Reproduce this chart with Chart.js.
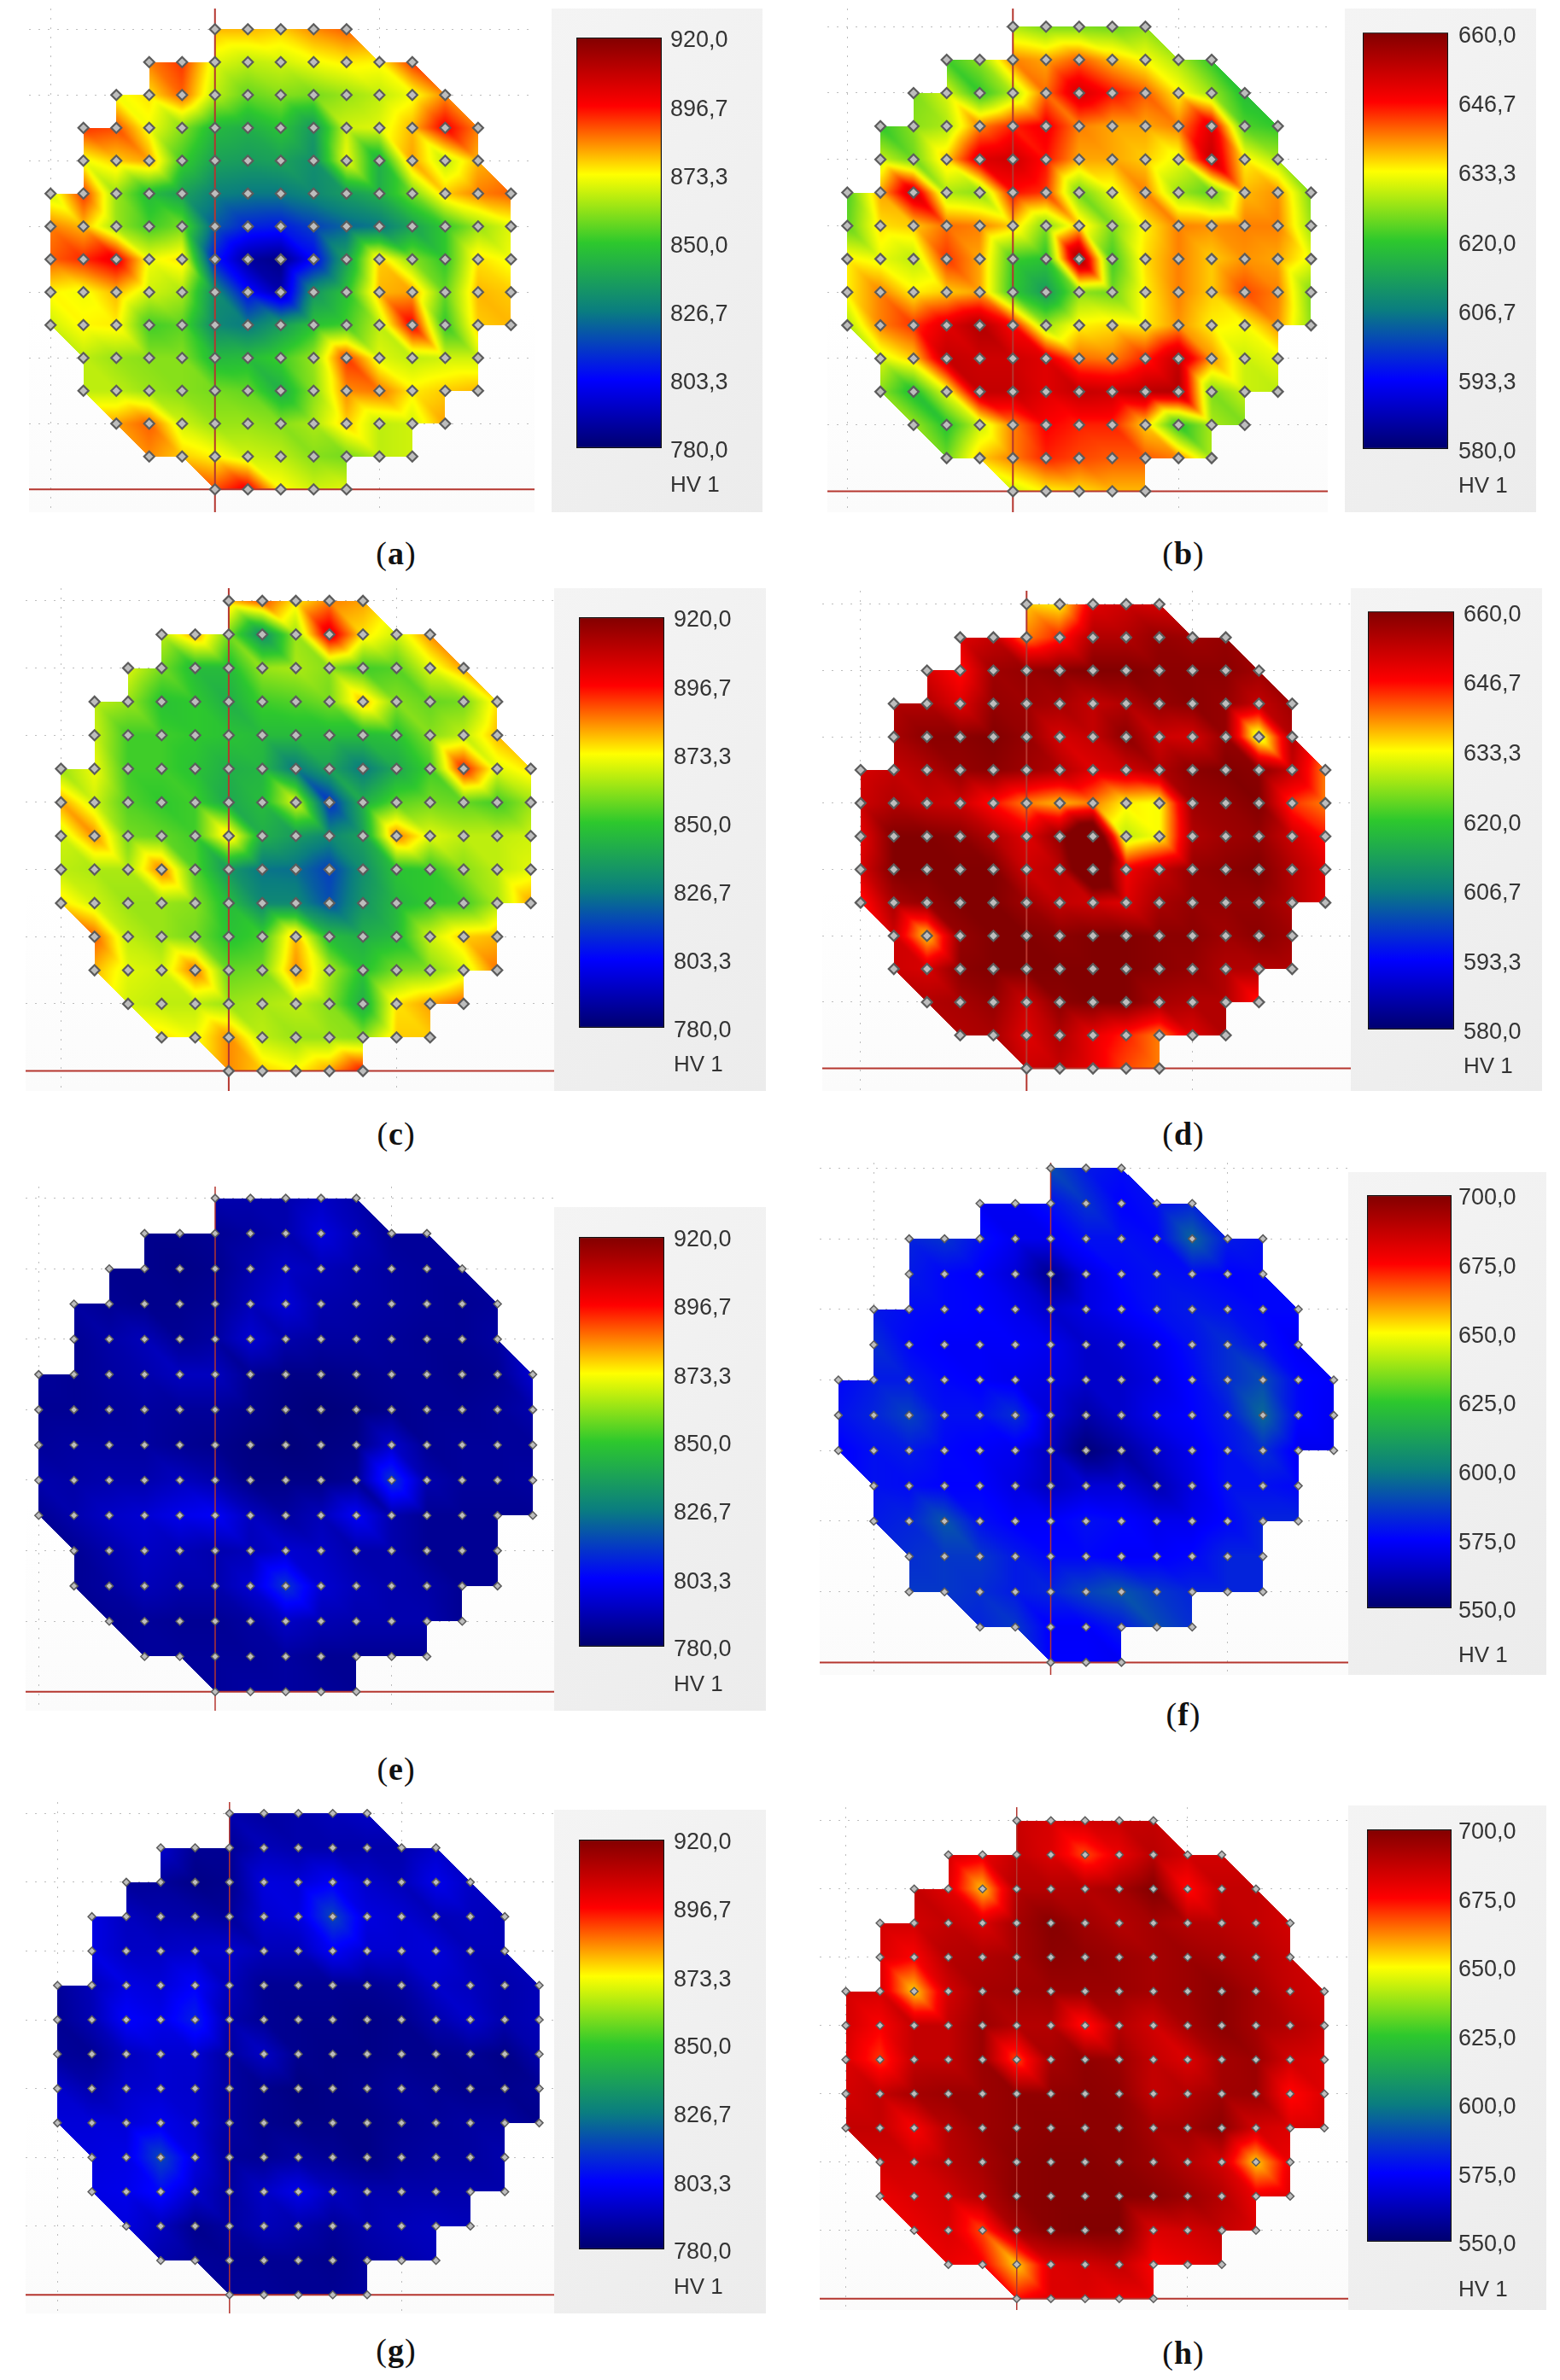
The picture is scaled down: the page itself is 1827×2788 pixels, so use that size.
<!DOCTYPE html>
<html><head><meta charset="utf-8">
<script src="https://cdn.jsdelivr.net/npm/chart.js@4"></script>
<style>
html,body{margin:0;padding:0;background:#fff;}
#page{position:relative;width:1827px;height:2788px;overflow:hidden;}
.plot,.legend{position:absolute;}
.plot{background:linear-gradient(180deg,#ffffff 60%,#fbfbfb 100%);}
.legend{background:linear-gradient(135deg,#f4f4f4,#ececec);}
canvas{display:block;}
.t{position:absolute;white-space:nowrap;transform:translateY(-50%);}
.hv{font:26px "Liberation Sans",sans-serif;color:#333;}
.cap{font:38px "Liberation Serif",serif;color:#111;transform:translate(-50%,-50%);letter-spacing:1px;}
.cap b{font-weight:700;}
</style></head><body><div id="page"></div>
<script>
const rowStartsStd = [5,3,2,1,1,0,0,0,0,0,1,1,2,3,5];
const rowStartsF   = [6,4,2,2,1,1,0,0,0,1,1,2,2,4,6];
const ticksSteel = [920,896.7,873.3,850,826.7,803.3,780];
const ticksB = [660,646.7,633.3,620,606.7,593.3,580];
const ticksF = [700,675,650,625,600,575,550];
const rampColors = [[0,0,110],[0,0,255],[10,125,128],[45,200,45],[255,255,0],[255,0,0],[130,0,0]];

const valuesA = [
[880,880,878,884,888],
[885,892,870,866,868,872,875,874,892],
[872,876,888,866,856,860,858,862,866,872,884],
[892,890,872,860,845,842,848,835,868,870,880,898,885],
[872,878,882,852,838,836,838,832,872,842,882,866,880],
[868,892,862,846,838,828,826,826,830,836,842,858,878,885,888],
[885,880,862,852,858,820,810,808,815,822,826,838,850,862,870],
[888,893,900,872,876,808,788,784,804,838,878,860,850,876,872],
[874,872,880,868,864,832,805,790,834,848,880,882,856,880,878],
[868,874,875,852,855,830,826,836,848,852,866,898,850,878,880],
[866,862,860,860,845,846,852,862,892,870,866,868,868],
[866,866,862,860,858,856,842,860,884,886,875,878,880],
[882,888,868,862,862,860,864,878,866,868,882],
[884,878,874,868,866,860,858,866,868],
[890,899,874,868,870]];
const valuesB = [
[628,625,625,624,626],
[621,626,640,638,642,637,633,628,620],
[625,631,620,628,641,651,646,642,634,627,618],
[620,626,628,640,645,648,640,638,638,640,650,622,620],
[630,624,636,650,652,646,638,638,636,632,653,634,628],
[622,638,652,628,626,646,644,624,632,640,627,623,637,639,625],
[623,635,636,641,640,636,625,636,625,634,640,639,640,640,627],
[634,632,629,644,638,621,619,658,621,635,640,636,639,638,632],
[634,640,634,636,638,620,612,626,624,634,640,636,643,640,625],
[628,640,644,650,655,647,627,634,635,634,639,634,633,639,626],
[631,636,653,652,652,650,641,640,645,653,639,630,632],
[626,618,632,653,653,650,653,652,654,655,625,630,629],
[627,619,630,640,647,645,645,636,619,628,625],
[624,636,640,645,643,642,642,640,628],
[630,634,635,637,637]];
const valuesC = [
[880,890,875,885,882],
[866,882,858,832,862,902,876,868,884],
[870,858,846,846,862,864,860,852,854,870,882],
[866,862,848,850,842,852,854,858,880,860,856,858,876],
[868,852,852,850,848,846,846,846,846,848,860,866,880],
[862,872,852,852,848,842,844,826,838,826,840,852,895,870,876],
[882,868,854,850,852,840,846,870,812,842,855,858,856,852,862],
[868,884,858,856,852,878,842,836,830,838,886,870,866,866,868],
[866,864,864,886,854,835,825,824,815,832,848,850,860,866,870],
[876,868,862,862,860,846,830,830,818,834,845,850,852,864,882],
[888,866,862,858,848,852,880,846,842,846,868,878,880],
[880,870,868,886,856,858,884,864,848,858,860,868,886],
[868,866,866,862,864,866,860,842,876,882,888],
[876,872,884,866,862,862,860,878,878],
[884,878,874,882,896]];
const valuesD = [
[636,634,650,652,651],
[650,653,640,645,655,655,658,657,658],
[651,646,657,658,659,660,660,659,659,659,657],
[655,655,650,658,657,656,653,655,658,659,658,653,657],
[656,659,659,660,658,651,653,659,652,651,658,630,655],
[651,653,655,658,659,657,655,650,652,655,659,660,659,653,640],
[652,655,653,652,646,640,637,640,634,633,657,658,660,644,640],
[649,660,660,659,655,650,658,674,629,633,655,657,658,652,646],
[651,660,660,660,660,652,654,670,648,653,658,659,660,655,650],
[645,656,658,660,660,657,653,652,650,656,658,658,658,655,650],
[652,636,658,660,660,659,660,660,659,659,657,659,657],
[652,651,659,660,660,660,660,660,659,658,655,655,655],
[655,656,658,652,659,660,660,656,655,655,645],
[655,656,650,655,649,645,640,650,655],
[652,653,649,643,640]];
const valuesE = [
[790,790,790,794,790],
[785,785,786,788,790,798,792,787,787],
[785,785,784,785,790,794,792,790,788,787,787],
[788,786,785,785,786,792,797,790,789,788,787,786,787],
[786,789,792,786,788,796,790,788,788,787,786,786,788],
[787,786,788,790,793,793,786,784,784,785,786,786,785,786,796],
[786,786,787,788,787,787,785,783,782,783,785,786,786,787,790],
[787,788,788,788,786,785,783,782,783,784,795,786,787,787,787],
[790,789,790,790,793,790,784,784,784,786,813,790,787,787,788],
[786,790,794,796,800,802,793,788,792,802,790,786,786,786,786],
[786,790,794,792,790,792,796,794,790,790,786,786,786],
[786,788,792,790,790,796,813,796,792,790,789,786,786],
[786,787,786,786,788,794,791,790,790,790,786],
[787,787,787,787,788,786,786,786,786],
[787,788,788,787,786]];
const valuesF = [
[590,580,577],
[573,573,578,585,575,578,582],
[582,585,578,572,572,578,578,576,595,580,578],
[580,576,574,568,556,570,576,578,577,575,576],
[580,577,576,575,572,566,570,574,578,580,578,576,576],
[584,576,574,574,574,572,566,568,572,578,584,578,573],
[576,580,580,576,574,572,570,566,566,570,576,584,590,576,574],
[578,582,588,578,578,584,568,560,566,572,575,580,596,576,573],
[574,578,580,576,574,572,564,552,558,566,572,578,584,572,572],
[578,577,575,575,570,564,568,568,562,570,578,578,576],
[580,582,592,578,574,574,578,576,572,572,576,582,582],
[584,586,586,580,576,576,574,574,576,582,582],
[586,586,584,580,582,588,592,586,582,582,582],
[582,586,574,574,580,590,584],
[575,575,573]];
const valuesG = [
[790,788,790,792,794],
[795,786,786,792,790,790,790,790,795],
[787,787,784,785,798,797,802,795,792,800,794],
[799,793,790,789,787,796,798,816,798,796,792,793,792],
[799,794,794,795,795,792,792,802,796,796,797,792,792],
[787,792,799,797,803,792,786,786,786,786,788,795,793,790,792],
[786,791,803,800,809,790,786,785,785,784,785,790,795,790,792],
[787,786,793,796,796,788,794,785,784,784,785,785,786,784,790],
[795,790,795,796,795,788,785,783,784,785,787,786,785,785,786],
[797,797,797,800,796,788,785,784,784,784,786,787,788,788,785],
[798,799,816,798,787,786,788,786,784,787,788,788,790],
[799,800,805,795,788,794,800,793,790,790,790,790,790],
[798,793,785,788,792,790,787,790,792,793,792],
[790,787,786,786,786,785,788,790,792],
[787,787,786,786,788]];
const valuesH = [
[686,683,684,686,687],
[684,679,687,682,668,679,689,684,684],
[687,681,656,690,690,690,693,700,674,687,687],
[684,684,687,682,693,699,694,690,693,690,689,687,684],
[682,676,690,691,693,698,697,695,693,695,693,690,686],
[684,683,655,684,693,694,695,695,695,693,695,698,693,687,684],
[684,676,687,687,695,690,690,672,690,684,693,698,693,690,686],
[682,670,687,687,695,668,693,697,695,687,682,693,695,684,682],
[684,687,693,695,695,697,697,698,697,687,690,694,695,674,682],
[687,687,676,690,695,697,698,698,698,693,694,698,684,682,684],
[684,684,689,693,698,699,699,698,695,690,684,655,679],
[679,682,684,690,698,699,699,699,698,695,690,679,682],
[679,682,668,693,699,700,700,682,684,687,682],
[679,676,655,682,684,687,676,679,682],
[674,682,682,679,679]];

// Layout table: page pixels of each panel.
const panels = [
 {id:'a',vals:valuesA,starts:rowStartsStd,red:5,ticks:ticksSteel,plot:[34,10,626,600],c0:59.2,c14:598.4,r0:34.3,r14:573.3,leg:[646,10,893,600],bar:[675,44,775,525],lab:785,hv:567,cap:[464,648]},
 {id:'b',vals:valuesB,starts:rowStartsStd,red:5,ticks:ticksB,plot:[969,10,1555,600],c0:992.3,c14:1535.4,r0:31.2,r14:575.5,leg:[1575,10,1799,600],bar:[1596,34,1696,526],lab:1708,hv:568,cap:[1386,648]},
 {id:'c',vals:valuesC,starts:rowStartsStd,red:5,ticks:ticksSteel,plot:[30,689,649,1278],c0:71.4,c14:621.6,r0:703.9,r14:1254.6,leg:[649,689,897,1278],bar:[678,723,778,1204],lab:789,hv:1246,cap:[464,1328]},
 {id:'d',vals:valuesD,starts:rowStartsStd,red:5,ticks:ticksB,plot:[963,692,1582,1278],c0:1007.9,c14:1552.2,r0:707.8,r14:1251.6,leg:[1582,689,1806,1278],bar:[1602,713,1703,1206],lab:1714,hv:1248,cap:[1386,1328]},
 {id:'e',vals:valuesE,starts:rowStartsStd,red:5,ticks:ticksSteel,plot:[30,1390,649,2004],c0:45.3,c14:624,r0:1403.6,r14:1981.8,leg:[649,1414,897,2004],bar:[678,1449,778,1929],lab:789,hv:1972,cap:[464,2072]},
 {id:'f',vals:valuesF,starts:rowStartsF,red:6,ticks:ticksF,plot:[960,1362,1579,1962],c0:981.9,c14:1562,r0:1368.4,r14:1947.4,leg:[1579,1373,1811,1962],bar:[1601,1400,1700,1884],lab:1708,hv:1938,cap:[1386,2008]},
 {id:'g',vals:valuesG,starts:rowStartsStd,red:5,ticks:ticksSteel,plot:[30,2111,649,2710],c0:67.3,c14:631.5,r0:2124.3,r14:2688.3,leg:[649,2120,897,2710],bar:[678,2155,778,2635],lab:789,hv:2678,cap:[464,2753]},
 {id:'h',vals:valuesH,starts:rowStartsStd,red:5,ticks:ticksF,plot:[960,2117,1579,2706],c0:990.6,c14:1551,r0:2132.7,r14:2692.8,leg:[1579,2115,1811,2706],bar:[1601,2143,1700,2626],lab:1708,hv:2681,cap:[1386,2756]}
];

function rampAt(t){
  t=Math.max(0,Math.min(1,t))*(rampColors.length-1);
  const i=Math.min(rampColors.length-2,Math.floor(t)),f=t-i,a=rampColors[i],b=rampColors[i+1];
  return [a[0]+(b[0]-a[0])*f,a[1]+(b[1]-a[1])*f,a[2]+(b[2]-a[2])*f];
}
const page=document.getElementById('page');
function box(cls,r){
  const d=document.createElement('div');d.className=cls;
  d.style.cssText=`left:${r[0]}px;top:${r[1]}px;width:${r[2]-r[0]}px;height:${r[3]-r[1]}px`;
  const c=document.createElement('canvas');c.width=r[2]-r[0];c.height=r[3]-r[1];
  c.style.width=c.width+'px';c.style.height=c.height+'px';
  d.appendChild(c);page.appendChild(d);return c;
}
function text(cls,html,x,y){
  const d=document.createElement('div');d.className='t '+cls;d.innerHTML=html;
  d.style.left=x+'px';d.style.top=y+'px';page.appendChild(d);
}
function grid(p){
  const g=[];
  for(let r=0;r<15;r++){g.push(new Array(15).fill(null));p.vals[r].forEach((v,i)=>{g[r][p.starts[r]+i]=v;});}
  return g;
}
function heatPlugin(p,g,lo,hi){return {id:'heat',beforeDatasetsDraw(chart){
  const a=chart.chartArea,xs=chart.scales.x,ys=chart.scales.y;
  const W=Math.round(a.right-a.left),H=Math.round(a.bottom-a.top);
  const off=document.createElement('canvas');off.width=W;off.height=H;
  const oc=off.getContext('2d'),im=oc.createImageData(W,H);
  for(let py=0;py<H;py++){
    const row=14-ys.getValueForPixel(a.top+py+.5);
    for(let px=0;px<W;px++){
      const col=xs.getValueForPixel(a.left+px+.5)+p.red;
      if(col<0||col>14||row<0||row>14)continue;
      const c=Math.min(13,Math.floor(col)),r=Math.min(13,Math.floor(row)),u=col-c,v=row-r;
      const TL=g[r][c],TR=g[r][c+1],BL=g[r+1][c],BR=g[r+1][c+1];
      let val=null;
      if(u>=v){ if(TL!==null&&TR!==null&&BR!==null) val=TL+u*(TR-TL)+v*(BR-TR); }
      else { if(TL!==null&&BL!==null&&BR!==null) val=TL+v*(BL-TL)+u*(BR-BL); }
      if(val===null)continue;
      const k=(py*W+px)*4,rgb=rampAt((val-lo)/(hi-lo));
      im.data[k]=rgb[0];im.data[k+1]=rgb[1];im.data[k+2]=rgb[2];im.data[k+3]=255;
    }
  }
  oc.putImageData(im,0,0);
  const soft=document.createElement('canvas');soft.width=W;soft.height=H;
  const sc=soft.getContext('2d');
  sc.drawImage(off,0,0);
  sc.globalCompositeOperation='source-atop';
  sc.filter='blur(1.8px)';
  sc.drawImage(off,0,0);
  chart.ctx.drawImage(soft,a.left,a.top);
}};}

panels.forEach(p=>{
  const g=grid(p),lo=p.ticks[p.ticks.length-1],hi=p.ticks[0];
  const pr=p.plot,sx=(p.c14-p.c0)/14,sy=(p.r14-p.r0)/14,redX=p.c0+p.red*sx;
  const xMin=(pr[0]-redX)/sx,xMax=(pr[2]-redX)/sx,yMin=(p.r14-pr[3])/sy,yMax=(p.r14-pr[1])/sy;
  const pts=[];
  g.forEach((row,r)=>row.forEach((v,c)=>{if(v!==null)pts.push({x:c-p.red,y:14-r});}));
  const dim=(p.id>='e');
  new Chart(box('plot',pr),{
    type:'scatter',
    data:{datasets:[
      {data:pts,pointStyle:'rectRot',pointRadius:dim?4.5:6,pointBackgroundColor:'#bdbdbd',pointBorderColor:'#5c5c5c',pointBorderWidth:dim?1.5:2.2,showLine:false},
      {data:[{x:0,y:yMin},{x:0,y:yMax}],showLine:true,pointRadius:0,borderColor:'#b5362f',borderWidth:dim?1.5:2},
      {data:[{x:xMin,y:0},{x:xMax,y:0}],showLine:true,pointRadius:0,borderColor:'#b5362f',borderWidth:2}
    ]},
    options:{responsive:false,animation:false,devicePixelRatio:1,
      layout:{padding:0,autoPadding:false},
      plugins:{legend:{display:false},tooltip:{enabled:false}},
      scales:{
        x:{type:'linear',min:xMin,max:xMax,afterBuildTicks:s=>{s.ticks=[{value:-5},{value:5}];},
           ticks:{display:false},grid:{color:'#bdbdbd',drawTicks:false,lineWidth:1},border:{display:false,dash:[2,9]}},
        y:{type:'linear',min:yMin,max:yMax,afterBuildTicks:s=>{s.ticks=[0,2,4,6,8,10,12,14].map(v=>({value:v}));},
           ticks:{display:false},grid:{color:'#bdbdbd',drawTicks:false,lineWidth:1},border:{display:false,dash:[2,9]}}
      }},
    plugins:[heatPlugin(p,g,lo,hi)]
  });
  const lg=p.leg,b=p.bar;
  new Chart(box('legend',lg),{
    type:'bar',
    data:{labels:['HV 1'],datasets:[{data:[[lo,hi]],barPercentage:1,categoryPercentage:1,borderColor:'#111',borderWidth:1.5,borderSkipped:false,
      backgroundColor:ctx=>{
        const a=ctx.chart.chartArea;if(!a)return '#888';
        const gr=ctx.chart.ctx.createLinearGradient(0,a.bottom,0,a.top);
        rampColors.forEach((c,i)=>gr.addColorStop(i/(rampColors.length-1),`rgb(${c[0]},${c[1]},${c[2]})`));
        return gr;
      }}]},
    options:{responsive:false,animation:false,devicePixelRatio:1,
      layout:{padding:{left:b[0]-lg[0],top:b[1]-lg[1],bottom:lg[3]-b[3],right:0},autoPadding:false},
      plugins:{legend:{display:false},tooltip:{enabled:false}},
      scales:{
        x:{display:false},
        y:{position:'right',min:lo,max:hi,
           afterBuildTicks:s=>{s.ticks=p.ticks.map(v=>({value:v}));},
           afterFit:s=>{s.width=lg[2]-b[2];},
           grid:{display:false,drawTicks:false},border:{display:false},
           ticks:{autoSkip:false,padding:p.lab-b[2],labelOffset:4,color:'#333',font:{family:'"Liberation Sans"',size:27},
                  callback:v=>v.toFixed(1).replace('.',',')}}
      }}
  });
  text('hv','HV 1',p.lab,p.hv);
  text('cap','(<b>'+p.id+'</b>)',p.cap[0],p.cap[1]);
});
</script></body></html>
